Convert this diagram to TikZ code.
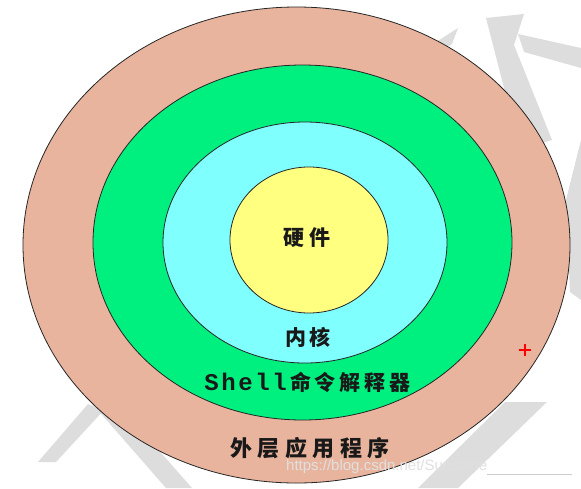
\documentclass[tikz,border=0pt]{standalone}
\usepackage{fontspec}
\setmainfont{Liberation Sans}
\newfontfamily\cjk{Noto Sans CJK SC}
\newfontfamily\shellmono{Liberation Mono}
\definecolor{outerc}{RGB}{233,180,157}
\definecolor{greenc}{RGB}{0,240,128}
\definecolor{cyanc}{RGB}{128,255,255}
\definecolor{yellowc}{RGB}{255,255,128}
\definecolor{wmark}{RGB}{221,221,221}
\newcommand\cbox[2]{\makebox[#1]{#2}}
\tikzset{
  ring/.style={draw=black!85, line width=0.8pt},
  wm/.style={fill=wmark, draw=none},
  lbl/.style={inner sep=0pt, text=black!90},
}
\begin{document}
\begin{tikzpicture}[x=1pt,y=-1pt]
\useasboundingbox[fill=white] (0,0) rectangle (581,488);
% watermark strokes
\fill[wm] (486,18) -- (524,14) -- (514,45) -- (552,140) -- (520,150) -- cycle;
\fill[wm] (518,34) -- (581,48) -- (581,68) -- (524,52) -- cycle;
\fill[wm] (430,46) -- (458,28) -- (452,44) -- (440,52) -- cycle;
\fill[wm] (581,140) -- (566,200) -- (570,292) -- (581,300) -- cycle;
\fill[wm] (505,402) -- (547,402) -- (458,488) -- (418,488) -- cycle;
\fill[wm] (88,404) -- (104,410) -- (56,462) -- (38,462) -- cycle;
\fill[wm] (96,408) -- (118,404) -- (192,488) -- (166,488) -- cycle;
% rings
\draw[ring, fill=outerc] (296.5,245) ellipse [x radius=273.5, y radius=238];
\draw[ring, fill=greenc] (302.5,242.5) ellipse [x radius=209.5, y radius=177.5];
\draw[ring, fill=cyanc] (305,242.5) ellipse [x radius=142, y radius=120.5];
\draw[ring, fill=yellowc] (309,240) ellipse [x radius=79, y radius=73];
% labels
\node[lbl] (hw) at (307,238) {\cjk\bfseries\fontsize{21}{21}\selectfont\cbox{26.5pt}{硬}\cbox{26.5pt}{件}};
\node[lbl] (kern) at (308,337) {\cjk\bfseries\fontsize{21}{21}\selectfont\cbox{25pt}{内}\cbox{25pt}{核}};
\node[lbl] (shell) at (308,382) {\shellmono\bfseries\fontsize{24}{24}\selectfont\cbox{17pt}{S}\cbox{17pt}{h}\cbox{17pt}{e}\cbox{17pt}{l}\cbox{17pt}{l}\cjk\fontsize{21}{21}\selectfont\cbox{25pt}{命}\cbox{25pt}{令}\cbox{25pt}{解}\cbox{25pt}{释}\cbox{25pt}{器}};
\node[lbl] (app) at (310,448) {\cjk\bfseries\fontsize{22}{22}\selectfont\cbox{27.5pt}{外}\cbox{27.5pt}{层}\cbox{27.5pt}{应}\cbox{27.5pt}{用}\cbox{27.5pt}{程}\cbox{27.5pt}{序}};
% red plus
\draw[red, line width=2.2pt] (519,350) -- (531,350) (525,344) -- (525,356);
% url watermark
\node[inner sep=0pt, anchor=base west, text=white!88!black] (url) at (286,470) {\fontsize{15}{15}\selectfont https://blog.csdn.net/Sunshine};
\coordinate (lineend) at (572,474.5);
\draw[black!20, line width=0.6pt] (url.base east) ++(0,4.5) -- (lineend);
\end{tikzpicture}
\end{document}
